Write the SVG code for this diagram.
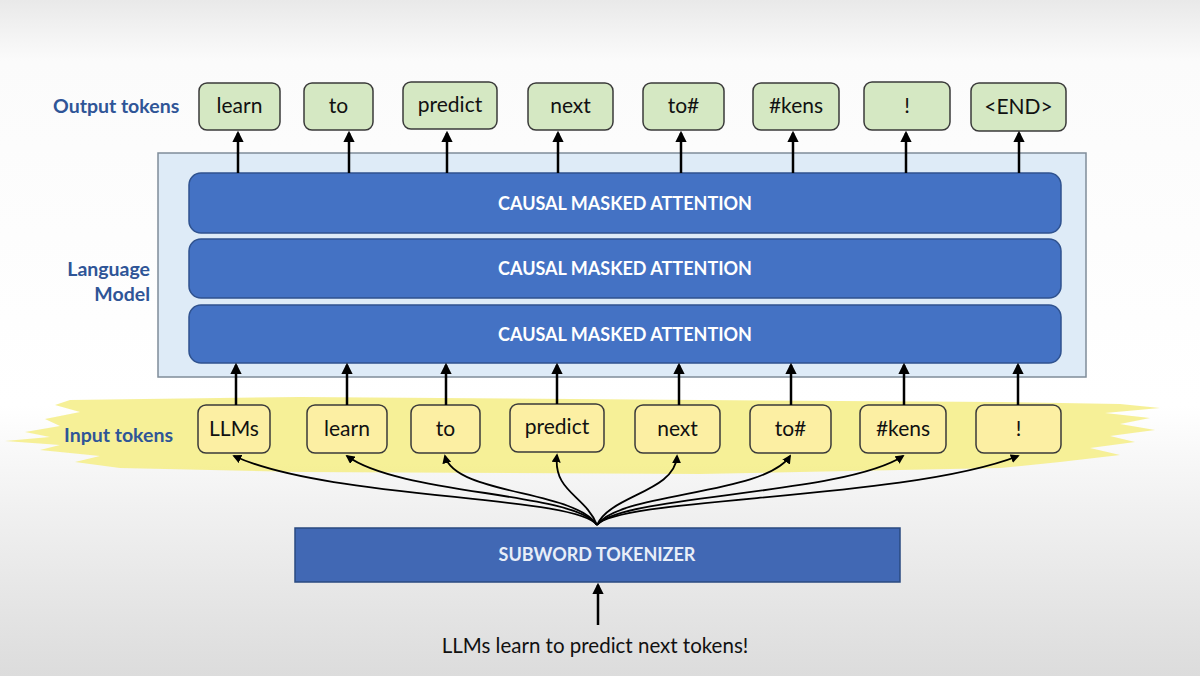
<svg xmlns="http://www.w3.org/2000/svg" width="1200" height="676" viewBox="0 0 1200 676">
<defs>
<linearGradient id="bg" x1="0" y1="0" x2="0" y2="1">
<stop offset="0" stop-color="#E9E9E9"/>
<stop offset="0.09" stop-color="#FBFBFB"/>
<stop offset="0.6" stop-color="#FFFFFF"/>
<stop offset="0.75" stop-color="#F1F1F1"/>
<stop offset="1" stop-color="#DCDCDC"/>
</linearGradient>
<marker id="ah" viewBox="0 0 10 10" refX="8" refY="5" markerWidth="4.5" markerHeight="4.5" orient="auto" markerUnits="strokeWidth">
<path d="M0,0 L10,5 L0,10 z" fill="#000"/>
</marker>
<marker id="ahs" viewBox="0 0 10 10" refX="8" refY="5" markerWidth="5" markerHeight="5" orient="auto" markerUnits="strokeWidth">
<path d="M0,0 L10,5 L0,10 z" fill="#000"/>
</marker>
</defs>
<style>
.lbl{font-family:Lato,"Open Sans","Liberation Sans",sans-serif;font-weight:bold;fill:#2F5597;font-size:19.5px}
.tok{font-family:Lato,"Open Sans","Liberation Sans",sans-serif;font-size:21px;fill:#111;text-anchor:middle}
.out rect{fill:#D5E8C3;stroke:#3A3A3A;stroke-width:1.5}
.inp rect{fill:#FCEFA3;stroke:#3A3A3A;stroke-width:1.5}
.att rect{fill:#4472C4;stroke:#2F528F;stroke-width:1.5}
.wt{font-family:Lato,"Open Sans","Liberation Sans",sans-serif;font-weight:bold;font-size:18px;fill:#FFFFFF;text-anchor:middle}
.up{stroke:#000;stroke-width:2.5;fill:none;marker-end:url(#ah)}
.fan{stroke:#000;stroke-width:1.8;fill:none;marker-end:url(#ahs)}
</style>
<rect x="0" y="0" width="1200" height="676" fill="url(#bg)"/>

<!-- yellow brush highlight -->
<path d="M70,400 L300,397 L700,400 L1000,402 L1120,404 L1160,408 L1105,413 L1150,418 L1120,424 L1155,430 L1110,436 L1135,442 L1090,448 L1120,455 L1060,462 L1000,468 L700,474 L300,472 L120,468 L75,462 L100,456 L40,450 L60,445 L5,441 L50,437 L25,432 L60,426 L45,419 L80,412 L55,405 Z" fill="#F5EE8C" opacity="0.9"/>

<text class="lbl" x="53" y="113">Output tokens</text>
<text class="lbl" x="150" y="276" text-anchor="end">Language</text>
<text class="lbl" x="150" y="301" text-anchor="end">Model</text>
<text class="lbl" x="64" y="442">Input tokens</text>

<g id="language-model">
<rect x="158" y="153" width="928" height="224" fill="#DEEBF7" stroke="#7F8C99" stroke-width="1.5"/>
</g>
<g id="attention1" class="att"><rect x="189" y="173" width="872" height="60" rx="12"/><text class="wt" x="625" y="210">CAUSAL MASKED ATTENTION</text></g>
<g id="attention2" class="att"><rect x="189" y="239" width="872" height="59" rx="12"/><text class="wt" x="625" y="275">CAUSAL MASKED ATTENTION</text></g>
<g id="attention3" class="att"><rect x="189" y="305" width="872" height="58" rx="12"/><text class="wt" x="625" y="341">CAUSAL MASKED ATTENTION</text></g>

<g id="out-learn" class="out"><rect x="199" y="83" width="81" height="47" rx="8"/><text class="tok" x="239.5" y="113">learn</text></g>
<g id="out-to" class="out"><rect x="304" y="83" width="69" height="47" rx="8"/><text class="tok" x="338.5" y="113">to</text></g>
<g id="out-predict" class="out"><rect x="403" y="82" width="94" height="47" rx="8"/><text class="tok" x="450" y="112">predict</text></g>
<g id="out-next" class="out"><rect x="528" y="83" width="85" height="47" rx="8"/><text class="tok" x="570.5" y="113">next</text></g>
<g id="out-to2" class="out"><rect x="643" y="83" width="81" height="47" rx="8"/><text class="tok" x="683.5" y="113">to#</text></g>
<g id="out-kens" class="out"><rect x="753" y="83" width="86" height="47" rx="8"/><text class="tok" x="796" y="113">#kens</text></g>
<g id="out-excl" class="out"><rect x="864" y="82" width="86" height="48" rx="8"/><text class="tok" x="907" y="113">!</text></g>
<g id="out-end" class="out"><rect x="971" y="83" width="95" height="48" rx="8"/><text class="tok" x="1018.5" y="114">&lt;END&gt;</text></g>

<g id="in-llms" class="inp"><rect x="198" y="405" width="72" height="48" rx="8"/><text class="tok" x="234" y="436">LLMs</text></g>
<g id="in-learn" class="inp"><rect x="307" y="405" width="80" height="48" rx="8"/><text class="tok" x="347" y="436">learn</text></g>
<g id="in-to" class="inp"><rect x="411" y="405" width="69" height="48" rx="8"/><text class="tok" x="445.5" y="436">to</text></g>
<g id="in-predict" class="inp"><rect x="510" y="404" width="94" height="48" rx="8"/><text class="tok" x="557" y="434">predict</text></g>
<g id="in-next" class="inp"><rect x="635" y="405" width="85" height="48" rx="8"/><text class="tok" x="677.5" y="436">next</text></g>
<g id="in-to2" class="inp"><rect x="750" y="405" width="81" height="48" rx="8"/><text class="tok" x="790.5" y="436">to#</text></g>
<g id="in-kens" class="inp"><rect x="860" y="405" width="86" height="48" rx="8"/><text class="tok" x="903" y="436">#kens</text></g>
<g id="in-excl" class="inp"><rect x="976" y="405" width="85" height="48" rx="8"/><text class="tok" x="1018.5" y="436">!</text></g>

<g id="tokenizer">
<rect x="295" y="528" width="605" height="54" fill="#4168B4" stroke="#2A4A80" stroke-width="1.5"/>
<text class="wt" x="597" y="561" style="fill:#E8EEF8">SUBWORD TOKENIZER</text>
</g>

<text id="sentence" class="tok" x="595" y="653" style="font-size:20.5px">LLMs learn to predict next tokens!</text>

<g id="connectors">
<line class="up" x1="238" y1="173" x2="238" y2="133"/>
<line class="up" x1="349" y1="173" x2="349" y2="133"/>
<line class="up" x1="447" y1="173" x2="447" y2="133"/>
<line class="up" x1="558" y1="173" x2="558" y2="133"/>
<line class="up" x1="681" y1="173" x2="681" y2="133"/>
<line class="up" x1="793" y1="173" x2="793" y2="133"/>
<line class="up" x1="906" y1="173" x2="906" y2="133"/>
<line class="up" x1="1019" y1="173" x2="1019" y2="133"/>

<line class="up" x1="236" y1="405" x2="236" y2="365"/>
<line class="up" x1="347" y1="405" x2="347" y2="365"/>
<line class="up" x1="446" y1="405" x2="446" y2="365"/>
<line class="up" x1="557" y1="404" x2="557" y2="365"/>
<line class="up" x1="679" y1="405" x2="679" y2="365"/>
<line class="up" x1="791" y1="405" x2="791" y2="365"/>
<line class="up" x1="904" y1="405" x2="904" y2="365"/>
<line class="up" x1="1018" y1="405" x2="1018" y2="365"/>

<path class="fan" d="M597,525 C575,495 330,500 234,456"/>
<path class="fan" d="M597,525 C575,492 400,495 347,456"/>
<path class="fan" d="M597,525 C575,490 455,495 445,456"/>
<path class="fan" d="M597,525 C585,495 553,492 557,455"/>
<path class="fan" d="M597,525 C610,495 675,492 677,456"/>
<path class="fan" d="M597,525 C620,492 765,495 790,456"/>
<path class="fan" d="M597,525 C620,495 845,495 903,456"/>
<path class="fan" d="M597,525 C620,497 905,500 1018,456"/>

<line class="up" x1="598" y1="625" x2="598" y2="585"/>
</g>
</svg>
